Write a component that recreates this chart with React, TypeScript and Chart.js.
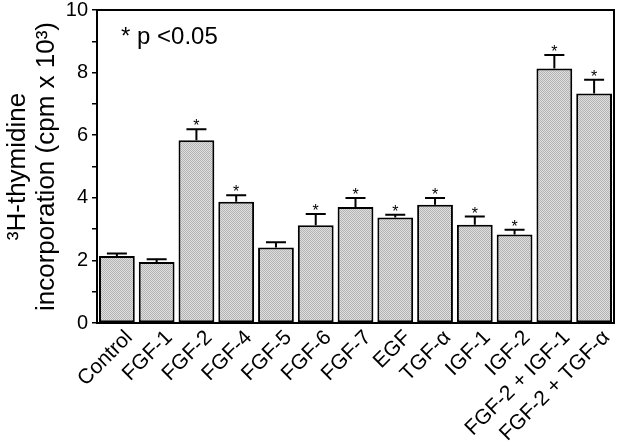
import React, { useEffect, useRef } from "react";
import { Chart, registerables } from "chart.js";

Chart.register(...registerables);

const categories = [
  "Control", "FGF-1", "FGF-2", "FGF-4", "FGF-5", "FGF-6", "FGF-7",
  "EGF", "TGF-α", "IGF-1", "IGF-2", "FGF-2 + IGF-1", "FGF-2 + TGF-α",
];
const means = [2.14, 1.95, 5.84, 3.87, 2.41, 3.12, 3.71, 3.37, 3.78, 3.14, 2.83, 8.13, 7.33];
const errorTops = [2.22, 2.04, 6.19, 4.08, 2.58, 3.48, 3.99, 3.46, 3.99, 3.4, 2.98, 8.56, 7.77];
const significant = [false, false, true, true, false, true, true, true, true, true, true, true, true];
const yTickValues = [0, 2, 4, 6, 8, 10];
const yTitleLines = ["³H-thymidine", "incorporation (cpm x 10³)"];
const noteText = "* p <0.05";

const FONT = "'Liberation Sans', Arial, Helvetica, sans-serif";

function makePattern(): CanvasPattern | string {
  const c = document.createElement("canvas");
  c.width = 2;
  c.height = 2;
  const g = c.getContext("2d");
  if (!g) return "#c8c8c8";
  g.fillStyle = "#dedede";
  g.fillRect(0, 0, 2, 2);
  g.fillStyle = "#b4b4b4";
  g.fillRect(0, 0, 1, 1);
  g.fillRect(1, 1, 1, 1);
  const p = g.createPattern(c, "repeat");
  return p || "#c8c8c8";
}

const overlayPlugin = {
  id: "overlay",
  afterDatasetsDraw(chart: any) {
    const ctx = chart.ctx;
    const y = chart.scales.y;
    const x = chart.scales.x;
    const meta = chart.getDatasetMeta(0);
    const a = chart.chartArea;
    ctx.save();
    ctx.strokeStyle = "#000";
    ctx.fillStyle = "#000";
    ctx.lineWidth = 2;
    meta.data.forEach((bar: any, i: number) => {
      const bx = bar.x;
      const top = y.getPixelForValue(means[i]);
      const et = y.getPixelForValue(errorTops[i]);
      ctx.beginPath();
      ctx.moveTo(bx, top);
      ctx.lineTo(bx, et);
      ctx.moveTo(bx - 10, et);
      ctx.lineTo(bx + 10, et);
      ctx.stroke();
      if (significant[i]) {
        ctx.font = `16px ${FONT}`;
        ctx.textAlign = "center";
        ctx.textBaseline = "alphabetic";
        ctx.fillText("*", bx, et + 2);
      }
    });
    // frame
    ctx.lineWidth = 2;
    ctx.strokeRect(a.left, a.top, a.right - a.left, a.bottom - a.top);
    // x labels
    ctx.font = `21px ${FONT}`;
    ctx.textAlign = "right";
    ctx.textBaseline = "top";
    categories.forEach((lab, i) => {
      const tx = x.getPixelForValue(i);
      ctx.save();
      ctx.translate(tx + 5, a.bottom + 4);
      ctx.rotate(-Math.PI / 4);
      ctx.fillText(lab, 0, 0);
      ctx.restore();
    });
    // note
    ctx.font = `24px ${FONT}`;
    ctx.textAlign = "left";
    ctx.textBaseline = "alphabetic";
    ctx.fillText(noteText, 121, 44);
    // y title
    ctx.font = `26px ${FONT}`;
    ctx.textAlign = "center";
    ctx.textBaseline = "middle";
    const cy = (a.top + a.bottom) / 2;
    const xs = [18, 47];
    yTitleLines.forEach((line, k) => {
      ctx.save();
      ctx.translate(xs[k], cy);
      ctx.rotate(-Math.PI / 2);
      ctx.fillText(line, 0, 0);
      ctx.restore();
    });
    ctx.restore();
  },
};

export default function App() {
  const ref = useRef<HTMLCanvasElement | null>(null);
  useEffect(() => {
    if (!ref.current) return;
    const chart = new Chart(ref.current, {
      type: "bar",
      data: {
        labels: categories,
        datasets: [
          {
            data: means,
            backgroundColor: makePattern() as any,
            borderColor: "#000",
            borderWidth: 2,
            borderSkipped: false,
            barPercentage: 0.9,
            categoryPercentage: 1,
          },
        ],
      },
      options: {
        responsive: false,
        animation: false,
        layout: { padding: { top: 7, right: 7, left: 0, bottom: 0 } },
        plugins: { legend: { display: false }, tooltip: { enabled: false } },
        scales: {
          x: {
            grid: { display: false },
            border: { display: true, color: "#000", width: 2 },
            ticks: { display: false },
            afterFit(scale: any) {
              scale.height = 120;
            },
          },
          y: {
            min: 0,
            max: 10,
            grid: {
              drawOnChartArea: false,
              drawTicks: true,
              tickLength: 5,
              color: "#000",
              lineWidth: 1.5,
            },
            border: { display: true, color: "#000", width: 2 },
            ticks: {
              stepSize: 1,
              padding: 4,
              color: "#000",
              font: { family: FONT, size: 20, lineHeight: 0.6 },
              callback: (v: any) => (yTickValues.includes(Number(v)) ? String(v) : ""),
            },
            afterFit(scale: any) {
              scale.width = 97;
            },
          },
        },
      },
      plugins: [overlayPlugin],
    });
    return () => chart.destroy();
  }, []);
  return (
    <canvas
      ref={ref}
      width={621}
      height={443}
      style={{ position: "fixed", left: 0, top: 0, display: "block", background: "#fff" }}
    />
  );
}
